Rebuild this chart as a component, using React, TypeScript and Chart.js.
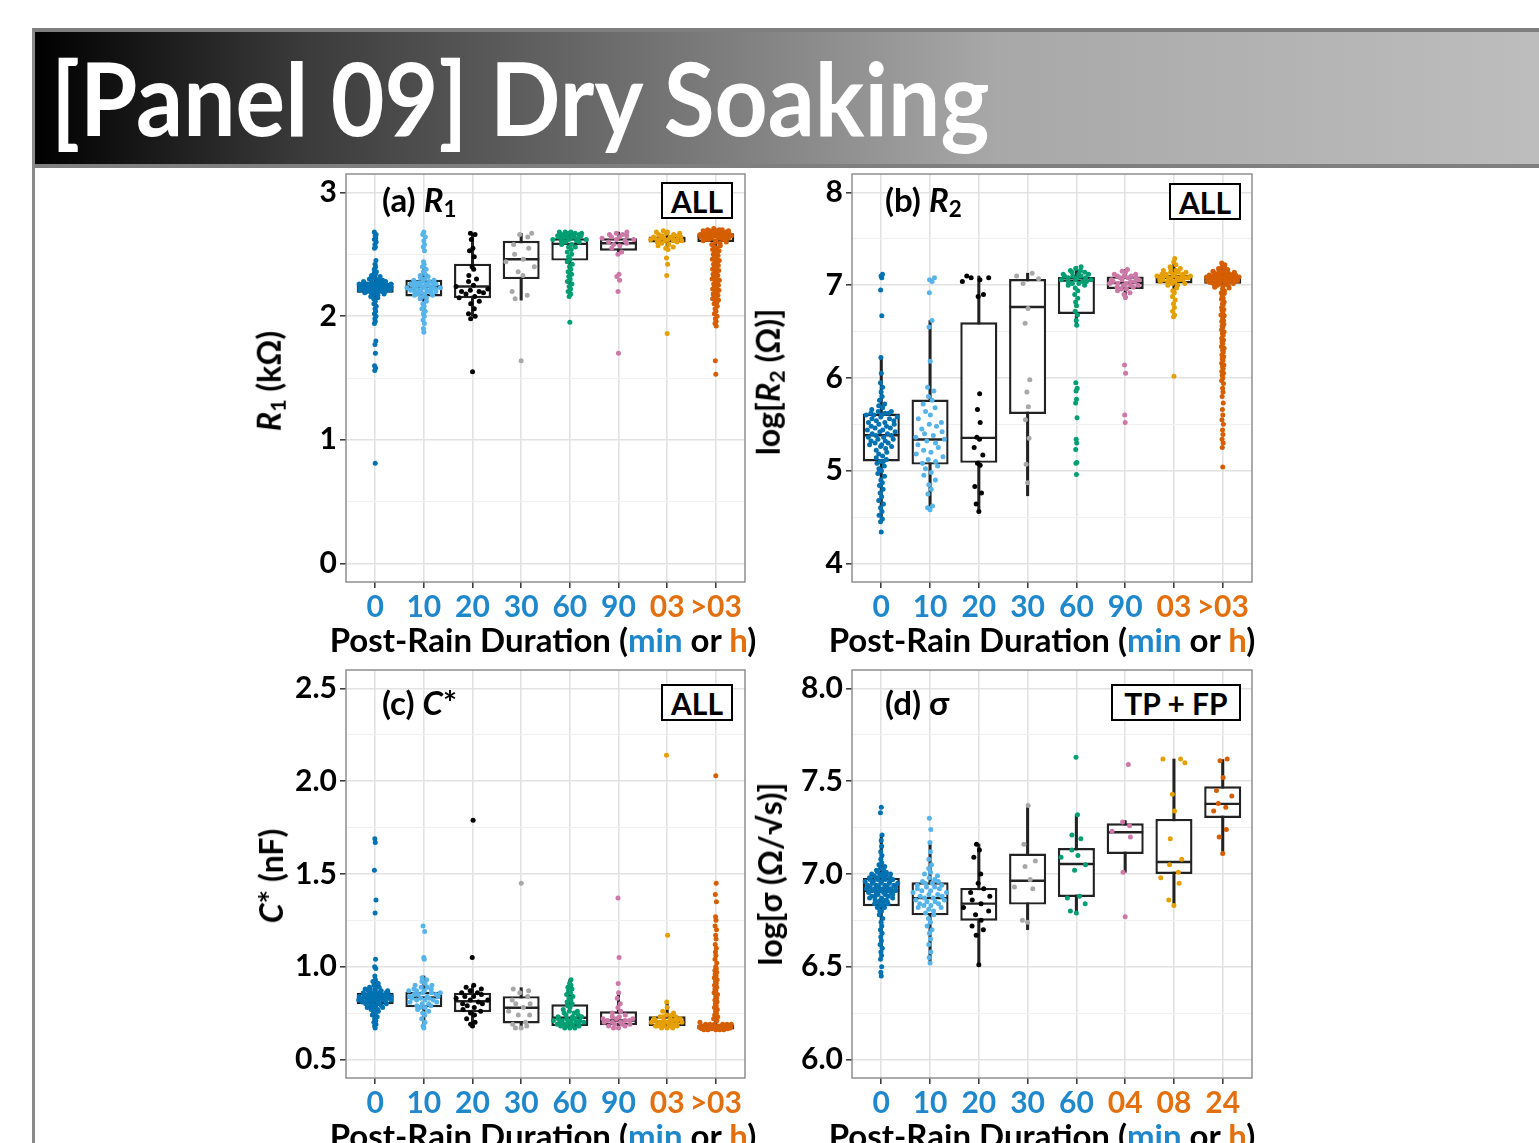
import React, { useEffect, useRef } from 'react';
import { Chart, registerables } from 'chart.js';
Chart.register(...registerables);

const FONT = "Lato, 'Open Sans', 'DejaVu Sans', sans-serif";

// ---------- categories & tick labels ----------
const CATS_ABC = ['0', '10', '20', '30', '60', '90', '03', '>03'];
const CATS_D = ['0', '10', '20', '30', '60', '04', '08', '24'];

const BLUE_TXT = '#1F88CA';
const ORANGE_TXT = '#E2700F';
const TICK_COLORS_ABC = [BLUE_TXT, BLUE_TXT, BLUE_TXT, BLUE_TXT, BLUE_TXT, BLUE_TXT, ORANGE_TXT, ORANGE_TXT];
const TICK_COLORS_D = [BLUE_TXT, BLUE_TXT, BLUE_TXT, BLUE_TXT, BLUE_TXT, ORANGE_TXT, ORANGE_TXT, ORANGE_TXT];
const POINT_COLORS = ['#0072B2', '#56B4E9', '#000000', '#A8A8A8', '#009E73', '#CC79A7', '#E69F00', '#D55E00'];

// ---------- y axes ----------
const Y_MAJOR_A = [0, 1, 2, 3];
const Y_MINOR_A = [0.5, 1.5, 2.5];
const Y_MAJOR_B = [4, 5, 6, 7, 8];
const Y_MINOR_B = [4.5, 5.5, 6.5, 7.5];
const Y_MAJOR_C = [0.5, 1.0, 1.5, 2.0, 2.5];
const Y_MINOR_C = [0.75, 1.25, 1.75, 2.25];
const Y_MAJOR_D = [6.0, 6.5, 7.0, 7.5, 8.0];
const Y_MINOR_D = [6.25, 6.75, 7.25, 7.75];

// ---------- panel (a) R1 ----------
const A_Q1 = [2.19, 2.16, 2.146, 2.30, 2.45, 2.53, 2.596, 2.60];
const A_MED = [2.235, 2.24, 2.24, 2.46, 2.585, 2.59, 2.62, 2.645];
const A_Q3 = [2.27, 2.294, 2.425, 2.61, 2.63, 2.63, 2.645, 2.67];
const A_LO = [2.08, 2.0, 2.0, 2.13, 2.16, 2.50, 2.54, 2.52];
const A_HI = [2.38, 2.44, 2.67, 2.67, 2.68, 2.68, 2.68, 2.70];
const A_PTS = [
  [2.68, 2.66, 2.65, 2.63, 2.62, 2.60, 2.58, 2.56, 2.55, 2.45, 2.42, 2.40, 2.38, 2.36, 2.35, 2.34, 2.33, 2.32, 2.31, 2.30, 2.30, 2.29, 2.29, 2.28, 2.28, 2.28, 2.27, 2.27, 2.27, 2.27, 2.26, 2.26, 2.26, 2.26, 2.26, 2.25, 2.25, 2.25, 2.25, 2.25, 2.25, 2.24, 2.24, 2.24, 2.24, 2.24, 2.24, 2.24, 2.23, 2.23, 2.23, 2.23, 2.23, 2.23, 2.23, 2.22, 2.22, 2.22, 2.22, 2.22, 2.22, 2.21, 2.21, 2.21, 2.21, 2.21, 2.20, 2.20, 2.20, 2.20, 2.19, 2.19, 2.19, 2.18, 2.18, 2.17, 2.16, 2.15, 2.14, 2.12, 2.10, 2.08, 2.06, 2.04, 2.02, 2.00, 1.98, 1.96, 1.94, 1.80, 1.77, 1.70, 1.60, 1.58, 1.56, 0.81],
  [2.68, 2.66, 2.64, 2.61, 2.58, 2.56, 2.53, 2.44, 2.42, 2.40, 2.38, 2.36, 2.34, 2.33, 2.32, 2.31, 2.30, 2.29, 2.29, 2.28, 2.28, 2.27, 2.27, 2.27, 2.26, 2.26, 2.26, 2.25, 2.25, 2.25, 2.24, 2.24, 2.24, 2.23, 2.23, 2.23, 2.22, 2.22, 2.22, 2.21, 2.21, 2.21, 2.20, 2.20, 2.20, 2.19, 2.19, 2.18, 2.18, 2.17, 2.17, 2.16, 2.15, 2.14, 2.12, 2.10, 2.08, 2.06, 2.04, 2.02, 2.00, 1.97, 1.94, 1.90, 1.87],
  [2.67, 2.66, 2.62, 2.55, 2.53, 2.48, 2.40, 2.38, 2.33, 2.30, 2.28, 2.25, 2.24, 2.22, 2.21, 2.20, 2.20, 2.19, 2.18, 2.16, 2.15, 2.12, 2.10, 2.06, 2.02, 2.00, 1.98, 1.55],
  [2.67, 2.66, 2.64, 2.58, 2.55, 2.50, 2.46, 2.44, 2.40, 2.36, 2.33, 2.20, 2.17, 2.14, 1.64],
  [2.68, 2.68, 2.68, 2.67, 2.67, 2.67, 2.66, 2.66, 2.66, 2.65, 2.65, 2.65, 2.64, 2.64, 2.64, 2.63, 2.63, 2.63, 2.62, 2.62, 2.62, 2.61, 2.61, 2.60, 2.60, 2.58, 2.58, 2.56, 2.56, 2.54, 2.52, 2.50, 2.48, 2.46, 2.44, 2.42, 2.40, 2.38, 2.36, 2.34, 2.32, 2.30, 2.28, 2.26, 2.24, 2.22, 2.20, 2.18, 2.16, 1.95],
  [2.68, 2.67, 2.66, 2.66, 2.65, 2.64, 2.64, 2.63, 2.62, 2.62, 2.61, 2.60, 2.59, 2.58, 2.57, 2.55, 2.52, 2.50, 2.34, 2.32, 2.29, 2.20, 1.70],
  [2.69, 2.68, 2.68, 2.67, 2.67, 2.66, 2.66, 2.65, 2.65, 2.64, 2.64, 2.64, 2.63, 2.63, 2.63, 2.62, 2.62, 2.62, 2.62, 2.61, 2.61, 2.61, 2.60, 2.60, 2.59, 2.58, 2.57, 2.56, 2.55, 2.54, 2.47, 2.42, 2.33, 1.86],
  [2.71, 2.70, 2.70, 2.70, 2.69, 2.69, 2.69, 2.69, 2.68, 2.68, 2.68, 2.68, 2.68, 2.67, 2.67, 2.67, 2.67, 2.67, 2.66, 2.66, 2.66, 2.66, 2.66, 2.65, 2.65, 2.65, 2.65, 2.64, 2.64, 2.64, 2.64, 2.63, 2.63, 2.63, 2.62, 2.62, 2.62, 2.61, 2.61, 2.60, 2.60, 2.59, 2.58, 2.57, 2.56, 2.55, 2.54, 2.53, 2.52, 2.51, 2.50, 2.49, 2.48, 2.47, 2.46, 2.45, 2.44, 2.43, 2.42, 2.41, 2.40, 2.39, 2.38, 2.37, 2.36, 2.35, 2.34, 2.33, 2.32, 2.31, 2.30, 2.29, 2.28, 2.27, 2.26, 2.25, 2.24, 2.23, 2.22, 2.21, 2.20, 2.19, 2.18, 2.17, 2.16, 2.15, 2.14, 2.13, 2.12, 2.11, 2.10, 2.08, 2.06, 2.04, 2.02, 2.00, 1.98, 1.96, 1.94, 1.92, 1.64, 1.53],
];

// ---------- panel (b) log R2 ----------
const B_Q1 = [5.10, 5.066, 5.085, 5.613, 6.69, 6.96, 7.02, 7.016];
const B_MED = [5.382, 5.336, 5.354, 6.765, 7.05, 7.024, 7.08, 7.06];
const B_Q3 = [5.616, 5.767, 6.60, 7.067, 7.09, 7.095, 7.11, 7.10];
const B_LO = [4.456, 4.58, 4.56, 4.73, 6.57, 6.85, 6.92, 6.92];
const B_HI = [6.216, 6.62, 7.10, 7.13, 7.20, 7.17, 7.24, 7.22];
const B_PTS = [
  [7.12, 7.10, 7.08, 6.95, 6.67, 6.22, 6.05, 5.95, 5.90, 5.85, 5.80, 5.76, 5.72, 5.70, 5.68, 5.66, 5.64, 5.64, 5.62, 5.62, 5.62, 5.60, 5.60, 5.60, 5.58, 5.58, 5.56, 5.56, 5.54, 5.54, 5.52, 5.52, 5.50, 5.50, 5.48, 5.48, 5.46, 5.46, 5.44, 5.44, 5.42, 5.42, 5.40, 5.40, 5.38, 5.38, 5.36, 5.36, 5.34, 5.34, 5.32, 5.32, 5.30, 5.30, 5.28, 5.28, 5.26, 5.26, 5.24, 5.22, 5.20, 5.18, 5.16, 5.14, 5.12, 5.10, 5.10, 5.08, 5.05, 5.02, 5.00, 4.97, 4.94, 4.90, 4.87, 4.84, 4.80, 4.76, 4.72, 4.68, 4.64, 4.60, 4.56, 4.52, 4.48, 4.45, 4.34],
  [7.08, 7.06, 7.04, 6.92, 6.62, 6.55, 6.18, 5.90, 5.86, 5.80, 5.76, 5.72, 5.68, 5.64, 5.60, 5.56, 5.52, 5.50, 5.48, 5.45, 5.42, 5.40, 5.38, 5.36, 5.34, 5.32, 5.30, 5.28, 5.25, 5.22, 5.20, 5.18, 5.15, 5.12, 5.10, 5.08, 5.05, 5.02, 4.98, 4.95, 4.90, 4.85, 4.80, 4.75, 4.62, 4.60, 4.58],
  [7.10, 7.08, 7.08, 7.06, 7.04, 6.90, 6.88, 5.83, 5.66, 5.52, 5.36, 5.34, 5.25, 5.17, 5.08, 5.06, 4.83, 4.76, 4.64, 4.56],
  [7.13, 7.10, 7.07, 7.02, 6.75, 6.59, 5.98, 5.85, 5.69, 5.55, 5.35, 5.07, 4.87],
  [7.20, 7.18, 7.16, 7.16, 7.14, 7.14, 7.12, 7.12, 7.12, 7.10, 7.10, 7.10, 7.08, 7.08, 7.08, 7.06, 7.06, 7.06, 7.04, 7.04, 7.04, 7.02, 7.02, 7.00, 7.00, 6.97, 6.94, 6.90, 6.86, 6.82, 6.78, 6.72, 6.68, 6.62, 6.57, 5.95, 5.89, 5.86, 5.77, 5.73, 5.57, 5.34, 5.30, 5.23, 5.09, 5.08, 4.96],
  [7.17, 7.15, 7.14, 7.12, 7.12, 7.10, 7.10, 7.10, 7.08, 7.08, 7.08, 7.06, 7.06, 7.06, 7.04, 7.04, 7.04, 7.02, 7.02, 7.02, 7.00, 7.00, 7.00, 6.98, 6.98, 6.96, 6.96, 6.94, 6.92, 6.90, 6.87, 6.14, 6.05, 5.60, 5.52],
  [7.29, 7.25, 7.22, 7.20, 7.18, 7.18, 7.16, 7.16, 7.14, 7.14, 7.14, 7.12, 7.12, 7.12, 7.12, 7.10, 7.10, 7.10, 7.10, 7.10, 7.08, 7.08, 7.08, 7.08, 7.08, 7.06, 7.06, 7.06, 7.06, 7.04, 7.04, 7.04, 7.02, 7.02, 7.00, 7.00, 6.97, 6.94, 6.92, 6.88, 6.84, 6.80, 6.76, 6.72, 6.68, 6.66, 6.02],
  [7.24, 7.22, 7.20, 7.19, 7.18, 7.17, 7.16, 7.15, 7.15, 7.14, 7.14, 7.13, 7.13, 7.12, 7.12, 7.12, 7.11, 7.11, 7.11, 7.10, 7.10, 7.10, 7.10, 7.09, 7.09, 7.09, 7.09, 7.08, 7.08, 7.08, 7.08, 7.07, 7.07, 7.07, 7.07, 7.06, 7.06, 7.06, 7.06, 7.05, 7.05, 7.05, 7.05, 7.04, 7.04, 7.04, 7.03, 7.03, 7.03, 7.02, 7.02, 7.01, 7.01, 7.00, 7.00, 6.99, 6.98, 6.97, 6.96, 6.94, 6.92, 6.91, 6.88, 6.86, 6.85, 6.82, 6.80, 6.79, 6.76, 6.74, 6.73, 6.70, 6.68, 6.67, 6.64, 6.62, 6.61, 6.58, 6.56, 6.55, 6.52, 6.50, 6.48, 6.46, 6.43, 6.41, 6.39, 6.37, 6.34, 6.32, 6.30, 6.28, 6.25, 6.23, 6.21, 6.19, 6.16, 6.14, 6.12, 6.10, 6.07, 6.05, 6.03, 6.00, 5.97, 5.94, 5.89, 5.85, 5.80, 5.73, 5.66, 5.60, 5.55, 5.50, 5.44, 5.39, 5.34, 5.30, 5.25, 5.04],
];

// ---------- panel (c) C* ----------
const C_Q1 = [0.797, 0.782, 0.755, 0.694, 0.68, 0.685, 0.68, 0.662];
const C_MED = [0.833, 0.835, 0.814, 0.779, 0.725, 0.71, 0.703, 0.675];
const C_Q3 = [0.86, 0.865, 0.86, 0.841, 0.797, 0.76, 0.733, 0.689];
const C_LO = [0.70, 0.67, 0.68, 0.671, 0.665, 0.665, 0.665, 0.655];
const C_HI = [0.95, 0.95, 0.895, 0.887, 0.93, 0.86, 0.81, 0.73];
const C_PTS = [
  [1.69, 1.67, 1.52, 1.36, 1.29, 1.04, 1.00, 0.99, 0.95, 0.93, 0.92, 0.91, 0.90, 0.90, 0.89, 0.89, 0.88, 0.88, 0.88, 0.87, 0.87, 0.87, 0.87, 0.86, 0.86, 0.86, 0.86, 0.86, 0.85, 0.85, 0.85, 0.85, 0.85, 0.85, 0.84, 0.84, 0.84, 0.84, 0.84, 0.84, 0.84, 0.83, 0.83, 0.83, 0.83, 0.83, 0.83, 0.83, 0.82, 0.82, 0.82, 0.82, 0.82, 0.82, 0.81, 0.81, 0.81, 0.81, 0.81, 0.80, 0.80, 0.80, 0.80, 0.79, 0.79, 0.79, 0.78, 0.78, 0.78, 0.77, 0.77, 0.76, 0.76, 0.75, 0.74, 0.73, 0.72, 0.71, 0.70, 0.69, 0.68, 0.67],
  [1.22, 1.19, 1.05, 1.04, 0.94, 0.93, 0.92, 0.91, 0.90, 0.90, 0.89, 0.89, 0.88, 0.88, 0.87, 0.87, 0.87, 0.86, 0.86, 0.86, 0.85, 0.85, 0.85, 0.84, 0.84, 0.84, 0.83, 0.83, 0.83, 0.82, 0.82, 0.82, 0.81, 0.81, 0.80, 0.80, 0.79, 0.79, 0.78, 0.78, 0.77, 0.76, 0.75, 0.74, 0.72, 0.70, 0.68, 0.67],
  [1.79, 1.05, 0.90, 0.89, 0.88, 0.87, 0.86, 0.86, 0.85, 0.84, 0.84, 0.83, 0.82, 0.82, 0.81, 0.80, 0.80, 0.79, 0.78, 0.77, 0.76, 0.75, 0.74, 0.72, 0.70, 0.69, 0.68],
  [1.45, 0.88, 0.87, 0.86, 0.84, 0.82, 0.80, 0.80, 0.78, 0.76, 0.74, 0.74, 0.70, 0.69, 0.68, 0.67, 0.67],
  [0.93, 0.91, 0.90, 0.89, 0.88, 0.87, 0.86, 0.85, 0.84, 0.83, 0.82, 0.81, 0.80, 0.79, 0.78, 0.77, 0.76, 0.76, 0.75, 0.75, 0.74, 0.74, 0.73, 0.73, 0.73, 0.72, 0.72, 0.72, 0.71, 0.71, 0.71, 0.71, 0.70, 0.70, 0.70, 0.70, 0.69, 0.69, 0.69, 0.69, 0.68, 0.68, 0.68, 0.68, 0.67, 0.67, 0.67],
  [1.37, 1.05, 0.91, 0.86, 0.83, 0.80, 0.78, 0.76, 0.75, 0.74, 0.73, 0.73, 0.72, 0.72, 0.72, 0.71, 0.71, 0.71, 0.70, 0.70, 0.70, 0.69, 0.69, 0.69, 0.68, 0.68, 0.67, 0.67],
  [2.14, 1.17, 0.81, 0.78, 0.76, 0.75, 0.74, 0.74, 0.73, 0.73, 0.73, 0.72, 0.72, 0.72, 0.71, 0.71, 0.71, 0.71, 0.70, 0.70, 0.70, 0.70, 0.70, 0.69, 0.69, 0.69, 0.69, 0.69, 0.68, 0.68, 0.68, 0.68, 0.68, 0.67, 0.67, 0.67],
  [2.03, 1.45, 1.39, 1.35, 1.27, 1.25, 1.22, 1.20, 1.17, 1.15, 1.12, 1.10, 1.08, 1.06, 1.04, 1.02, 1.00, 0.99, 0.98, 0.97, 0.96, 0.95, 0.94, 0.93, 0.92, 0.91, 0.90, 0.89, 0.88, 0.87, 0.86, 0.85, 0.84, 0.83, 0.82, 0.81, 0.80, 0.79, 0.78, 0.77, 0.76, 0.75, 0.74, 0.73, 0.72, 0.71, 0.70, 0.69, 0.69, 0.69, 0.69, 0.69, 0.69, 0.68, 0.68, 0.68, 0.68, 0.68, 0.68, 0.68, 0.68, 0.675, 0.675, 0.675, 0.675, 0.675, 0.675, 0.675, 0.675, 0.675, 0.675, 0.67, 0.67, 0.67, 0.67, 0.67, 0.67, 0.67, 0.67, 0.67, 0.67, 0.665, 0.665, 0.665, 0.665, 0.665, 0.665, 0.665, 0.665, 0.66, 0.66, 0.66, 0.66, 0.66],
];

// ---------- panel (d) log sigma ----------
const D_Q1 = [6.826, 6.777, 6.748, 6.835, 6.876, 7.108, 7.0, 7.302];
const D_MED = [6.91, 6.87, 6.84, 6.964, 7.054, 7.225, 7.065, 7.378];
const D_Q3 = [6.979, 6.955, 6.925, 7.11, 7.14, 7.273, 7.297, 7.473];
const D_LO = [6.60, 6.52, 6.51, 6.70, 6.795, 7.009, 6.83, 7.114];
const D_HI = [7.21, 7.167, 7.162, 7.365, 7.32, 7.288, 7.62, 7.617];
const D_PTS = [
  [7.36, 7.33, 7.21, 7.18, 7.15, 7.12, 7.10, 7.08, 7.06, 7.05, 7.04, 7.03, 7.02, 7.02, 7.01, 7.01, 7.00, 7.00, 7.00, 6.99, 6.99, 6.99, 6.98, 6.98, 6.98, 6.98, 6.97, 6.97, 6.97, 6.97, 6.96, 6.96, 6.96, 6.96, 6.95, 6.95, 6.95, 6.95, 6.94, 6.94, 6.94, 6.94, 6.93, 6.93, 6.93, 6.93, 6.92, 6.92, 6.92, 6.92, 6.91, 6.91, 6.91, 6.91, 6.90, 6.90, 6.90, 6.90, 6.89, 6.89, 6.89, 6.88, 6.88, 6.88, 6.87, 6.87, 6.87, 6.86, 6.86, 6.86, 6.85, 6.85, 6.85, 6.84, 6.84, 6.83, 6.83, 6.82, 6.82, 6.80, 6.80, 6.78, 6.76, 6.74, 6.72, 6.70, 6.68, 6.66, 6.64, 6.62, 6.60, 6.58, 6.56, 6.54, 6.50, 6.47, 6.45],
  [7.30, 7.24, 7.17, 7.12, 7.08, 7.05, 7.03, 7.01, 7.00, 6.99, 6.98, 6.97, 6.96, 6.96, 6.95, 6.95, 6.94, 6.94, 6.93, 6.93, 6.92, 6.92, 6.91, 6.91, 6.90, 6.90, 6.89, 6.89, 6.88, 6.88, 6.87, 6.87, 6.86, 6.86, 6.85, 6.85, 6.84, 6.84, 6.83, 6.83, 6.82, 6.82, 6.81, 6.80, 6.79, 6.78, 6.76, 6.74, 6.72, 6.70, 6.68, 6.65, 6.62, 6.58, 6.55, 6.52],
  [7.16, 7.13, 7.09, 7.00, 6.95, 6.92, 6.90, 6.88, 6.86, 6.84, 6.82, 6.80, 6.78, 6.75, 6.72, 6.70, 6.67, 6.51],
  [7.37, 7.16, 7.07, 7.04, 6.97, 6.93, 6.92, 6.75, 6.74],
  [7.63, 7.32, 7.21, 7.19, 7.13, 7.10, 7.09, 7.05, 7.02, 6.88, 6.87, 6.84, 6.80, 6.79],
  [7.59, 7.28, 7.26, 7.23, 7.20, 7.01, 6.77],
  [7.62, 7.62, 7.60, 7.43, 7.34, 7.19, 7.08, 7.05, 7.01, 6.98, 6.95, 6.86, 6.83],
  [7.62, 7.61, 7.52, 7.45, 7.42, 7.38, 7.36, 7.34, 7.24, 7.20, 7.11],
];

// ---------- helpers ----------
function vdc(n: number): number {
  let v = 0;
  let d = 1;
  while (n > 0) {
    d *= 2;
    v += (n % 2) / d;
    n = Math.floor(n / 2);
  }
  return v;
}

// quasirandom (beeswarm-like) horizontal spread, width follows local density
function swarmOffsets(vals: number[], span: number): number[] {
  const bw = span * 0.02;
  const dens = vals.map((v) => vals.reduce((s, u) => s + (Math.abs(u - v) <= bw ? 1 : 0), 0));
  const maxD = Math.max(...dens);
  const order = vals.map((_, i) => i).sort((a, b) => vals[a] - vals[b]);
  const out = new Array(vals.length).fill(0);
  order.forEach((idx, rank) => {
    const q = vdc(rank + 1) * 2 - 1;
    const w = 0.36 * Math.max(0.05, Math.pow(dens[idx] / maxD, 1.3));
    out[idx] = q * w;
  });
  return out;
}

const LINE = '#222222';
const GRID_MAJOR = '#E2E2E2';
const GRID_MINOR = '#F0F0F0';

const borderPlugin = {
  id: 'panelBorder',
  afterDatasetsDraw(chart: any) {
    const { ctx, chartArea: a } = chart;
    ctx.save();
    ctx.strokeStyle = '#8f8f8f';
    ctx.lineWidth = 1.5;
    ctx.strokeRect(a.left, a.top, a.right - a.left, a.bottom - a.top);
    ctx.restore();
  },
};

type PanelCfg = {
  left: number; top: number; w: number; h: number;
  cats: string[]; tickColors: string[];
  yMin: number; yMax: number; yMajor: number[]; yMinor: number[]; decimals: number;
  q1: number[]; med: number[]; q3: number[]; lo: number[]; hi: number[]; pts: number[][];
};

const PAD_L = 100;
const PAD_T = 10;
const PAD_R = 10;
const PAD_B = 55;

function Panel({ cfg }: { cfg: PanelCfg }) {
  const ref = useRef<HTMLCanvasElement>(null);
  useEffect(() => {
    const span = cfg.yMax - cfg.yMin;
    const n = cfg.cats.length;
    const datasets: any[] = [];
    datasets.push({
      type: 'bar',
      data: cfg.lo.map((l, i) => ({ x: i, y: [l, cfg.hi[i]] })),
      backgroundColor: LINE,
      borderWidth: 0,
      barThickness: 2.4,
      grouped: false,
      order: 6,
    });
    datasets.push({
      type: 'bar',
      data: cfg.q1.map((q, i) => ({ x: i, y: [q, cfg.q3[i]] })),
      backgroundColor: '#ffffff',
      borderColor: LINE,
      borderWidth: 2.4,
      borderSkipped: false,
      barPercentage: 0.76,
      categoryPercentage: 1,
      grouped: false,
      order: 5,
    });
    datasets.push({
      type: 'scatter',
      data: cfg.med.map((m, i) => ({ x: i, y: m })),
      pointStyle: 'line',
      pointRadius: 18,
      pointBorderColor: LINE,
      pointBorderWidth: 2.4,
      order: 4,
    });
    cfg.pts.forEach((vals, i) => {
      const off = swarmOffsets(vals, span);
      datasets.push({
        type: 'scatter',
        data: vals.map((v, k) => ({ x: i + off[k], y: v })),
        pointRadius: 2.5,
        pointBorderWidth: 0,
        pointBackgroundColor: POINT_COLORS[i],
        pointBorderColor: POINT_COLORS[i],
        order: 2,
      });
    });
    const isMajor = (v: number) => cfg.yMajor.some((m) => Math.abs(m - v) < 1e-9);
    const chart = new Chart(ref.current as HTMLCanvasElement, {
      type: 'bar',
      data: { datasets },
      options: {
        animation: false,
        responsive: false,
        events: [],
        layout: { autoPadding: false, padding: { left: 0, top: PAD_T, right: PAD_R, bottom: 0 } },
        plugins: { legend: { display: false }, tooltip: { enabled: false } },
        scales: {
          x: {
            type: 'linear',
            offset: false,
            min: -0.6,
            max: n - 0.4,
            afterBuildTicks: (s: any) => { s.ticks = cfg.cats.map((_, i) => ({ value: i })); },
            afterFit: (s: any) => { s.height = PAD_B; s.paddingLeft = 0; s.paddingRight = 0; },
            border: { display: false },
            grid: { offset: false, color: GRID_MAJOR, lineWidth: 1.6, tickLength: 6, tickColor: '#333', tickWidth: 1.5 },
            ticks: {
              autoSkip: false,
              maxRotation: 0,
              padding: 1,
              callback: (_v: any, i: number) => cfg.cats[i],
              color: (c: any) => cfg.tickColors[c.index],
              font: { family: FONT, size: 30, weight: 'bold' },
            },
          },
          y: {
            type: 'linear',
            min: cfg.yMin,
            max: cfg.yMax,
            afterBuildTicks: (s: any) => {
              s.ticks = [...cfg.yMajor, ...cfg.yMinor].sort((a, b) => a - b).map((v) => ({ value: v }));
            },
            afterFit: (s: any) => { s.width = PAD_L; s.paddingTop = 0; s.paddingBottom = 0; },
            border: { display: false },
            grid: {
              color: (c: any) => (c.tick && isMajor(c.tick.value) ? GRID_MAJOR : GRID_MINOR),
              lineWidth: (c: any) => (c.tick && isMajor(c.tick.value) ? 1.6 : 1),
              tickLength: 6,
              tickColor: (c: any) => (c.tick && isMajor(c.tick.value) ? '#333' : 'rgba(0,0,0,0)'),
              tickWidth: 1.5,
            },
            ticks: {
              autoSkip: false,
              padding: 3,
              callback: (v: any) => (isMajor(Number(v)) ? Number(v).toFixed(cfg.decimals) : ''),
              color: '#000',
              font: { family: FONT, size: 30, weight: 'bold' },
            },
          },
        },
      } as any,
      plugins: [borderPlugin],
    });
    return () => chart.destroy();
  }, []);
  return (
    <canvas
      ref={ref}
      width={cfg.w + PAD_L + PAD_R}
      height={cfg.h + PAD_T + PAD_B}
      style={{ position: 'absolute', left: cfg.left - PAD_L, top: cfg.top - PAD_T, width: cfg.w + PAD_L + PAD_R, height: cfg.h + PAD_T + PAD_B }}
    />
  );
}

const PANELS: PanelCfg[] = [
  { left: 346, top: 174, w: 399, h: 408, cats: CATS_ABC, tickColors: TICK_COLORS_ABC, yMin: -0.15, yMax: 3.15, yMajor: Y_MAJOR_A, yMinor: Y_MINOR_A, decimals: 0, q1: A_Q1, med: A_MED, q3: A_Q3, lo: A_LO, hi: A_HI, pts: A_PTS },
  { left: 852, top: 174, w: 400, h: 408, cats: CATS_ABC, tickColors: TICK_COLORS_ABC, yMin: 3.8, yMax: 8.2, yMajor: Y_MAJOR_B, yMinor: Y_MINOR_B, decimals: 0, q1: B_Q1, med: B_MED, q3: B_Q3, lo: B_LO, hi: B_HI, pts: B_PTS },
  { left: 346, top: 670, w: 399, h: 408, cats: CATS_ABC, tickColors: TICK_COLORS_ABC, yMin: 0.4, yMax: 2.6, yMajor: Y_MAJOR_C, yMinor: Y_MINOR_C, decimals: 1, q1: C_Q1, med: C_MED, q3: C_Q3, lo: C_LO, hi: C_HI, pts: C_PTS },
  { left: 852, top: 670, w: 400, h: 408, cats: CATS_D, tickColors: TICK_COLORS_D, yMin: 5.9, yMax: 8.1, yMajor: Y_MAJOR_D, yMinor: Y_MINOR_D, decimals: 1, q1: D_Q1, med: D_MED, q3: D_Q3, lo: D_LO, hi: D_HI, pts: D_PTS },
];

const abs = (o: any): React.CSSProperties => ({ position: 'absolute', whiteSpace: 'nowrap', lineHeight: 1, ...o });

function YTitle({ cx, cy, children }: { cx: number; cy: number; children: React.ReactNode }) {
  return (
    <div style={abs({ left: cx, top: cy, fontSize: 32, fontWeight: 700, transform: 'translate(-50%, -50%) rotate(-90deg)' })}>{children}</div>
  );
}

function XTitle({ cx, top }: { cx: number; top: number }) {
  return (
    <div style={abs({ left: cx, top, fontSize: 33, fontWeight: 700, transform: 'translateX(-50%)' })}>
      Post-Rain Duration (<span style={{ color: BLUE_TXT }}>min</span> or <span style={{ color: ORANGE_TXT }}>h</span>)
    </div>
  );
}

function Tag({ left, top, w, text }: { left: number; top: number; w: number; text: string }) {
  return (
    <div style={abs({ left, top, width: w, height: 37, boxSizing: 'border-box', border: '2.5px solid #000', display: 'flex', alignItems: 'center', justifyContent: 'center', fontSize: 30, fontWeight: 700, background: '#fff' })}>{text}</div>
  );
}

const sub: React.CSSProperties = { fontSize: '0.68em', verticalAlign: '-0.22em', fontStyle: 'normal' };

export default function App() {
  return (
    <div style={{ position: 'absolute', left: 0, top: 0, width: 1539, height: 1143, overflow: 'hidden', background: '#fff', fontFamily: FONT, color: '#000' }}>
      <div style={{ position: 'absolute', left: 32, top: 28, width: 1600, height: 1200, borderLeft: '3px solid #8a8a8a', borderTop: '4px solid #7f7f7f' }} />
      <div style={{ position: 'absolute', left: 35, top: 32, width: 1504, height: 132, borderBottom: '4px solid #7f7f7f', background: 'linear-gradient(to right, #000000 0%, #3a3a3a 17.6%, #6a6a6a 37.6%, #a8a8a8 64%, #bdbdbd 100%)' }} />
      <div style={abs({ left: 51, top: 46, fontSize: 102, fontWeight: 700, color: '#fff', transform: 'scaleX(0.91)', transformOrigin: 'left top' })}>[Panel 09] Dry Soaking</div>

      {PANELS.map((p, i) => <Panel key={i} cfg={p} />)}

      <YTitle cx={271} cy={381}><i>R</i><span style={sub}>1</span> (kΩ)</YTitle>
      <YTitle cx={770} cy={382}>log[<i>R</i><span style={sub}>2</span> (Ω)]</YTitle>
      <YTitle cx={271} cy={876}><i>C</i>* (nF)</YTitle>
      <YTitle cx={770} cy={874}>log[σ (Ω/√s)]</YTitle>

      <XTitle cx={543} top={623} />
      <XTitle cx={1042} top={623} />
      <XTitle cx={543} top={1119} />
      <XTitle cx={1042} top={1119} />

      <div style={abs({ left: 382, top: 183, fontSize: 33, fontWeight: 700 })}>(a) <i>R</i><span style={sub}>1</span></div>
      <div style={abs({ left: 885, top: 183, fontSize: 33, fontWeight: 700 })}>(b) <i>R</i><span style={sub}>2</span></div>
      <div style={abs({ left: 382, top: 686, fontSize: 33, fontWeight: 700 })}>(c) <i>C</i>*</div>
      <div style={abs({ left: 885, top: 686, fontSize: 33, fontWeight: 700 })}>(d) σ</div>

      <Tag left={661} top={182} w={72} text="ALL" />
      <Tag left={1169} top={183} w={72} text="ALL" />
      <Tag left={661} top={684} w={72} text="ALL" />
      <Tag left={1111} top={684} w={130} text="TP + FP" />
    </div>
  );
}
